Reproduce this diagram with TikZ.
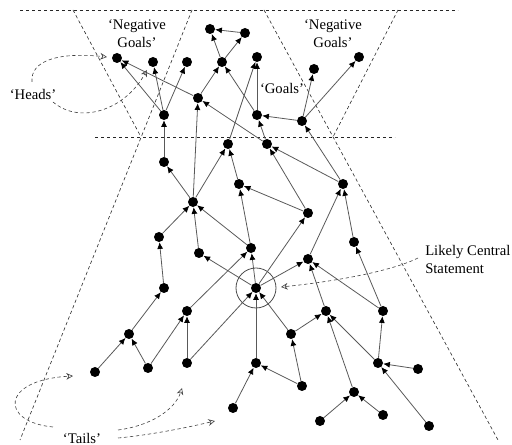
\documentclass[tikz,border=0pt]{standalone}
\usepackage{fontspec}
\setmainfont{Liberation Serif}
\usetikzlibrary{arrows.meta}

\begin{document}
\begin{tikzpicture}[
  x=0.75pt, y=-0.75pt,
  stmt/.style={circle, fill=black, inner sep=0pt, minimum size=7.5pt},
  link/.style={-{Latex[length=5pt, width=4.5pt, color=black]}, draw=black!65, line width=0.6pt},
  zone/.style={dash pattern=on 2.5pt off 2pt, draw=black!85, line width=0.45pt},
  hint/.style={-{Stealth[open, length=5pt, width=5pt]}, dash pattern=on 2.5pt off 2pt, draw=black!75, line width=0.45pt},
  lbl/.style={font=\fontsize{11}{13.5}\selectfont, align=center, inner sep=0pt},
]
  \useasboundingbox (0,0) rectangle (512,445);

  % zones
  \draw[zone] (20,10) -- (458,10);
  \draw[zone] (95,137) -- (395,137);
  \draw[zone] (73,10) -- (141,137);
  \draw[zone] (192,10) -- (20,440);
  \draw[zone] (398,10) -- (333,137);
  \draw[zone] (264,10) -- (498,440);

  % statements
  \node[stmt] (s1)  at (117,58)  {};
  \node[stmt] (s2)  at (153,62)  {};
  \node[stmt] (s3)  at (187,62)  {};
  \node[stmt] (s4)  at (164,115) {};
  \node[stmt] (s5)  at (198,98)  {};
  \node[stmt] (s6)  at (222,62)  {};
  \node[stmt] (s7)  at (210,29)  {};
  \node[stmt] (s8)  at (245,33)  {};
  \node[stmt] (s9)  at (257,57)  {};
  \node[stmt] (s10) at (257,115) {};
  \node[stmt] (s11) at (302,121) {};
  \node[stmt] (s12) at (314,69)  {};
  \node[stmt] (s13) at (359,57)  {};
  \node[stmt] (s14) at (228,144) {};
  \node[stmt] (s15) at (267,144) {};
  \node[stmt] (s16) at (164,162) {};
  \node[stmt] (s17) at (239,184) {};
  \node[stmt] (s18) at (343,184) {};
  \node[stmt] (s19) at (193,202) {};
  \node[stmt] (s20) at (308,213) {};
  \node[stmt] (s21) at (159,237) {};
  \node[stmt] (s22) at (199,253) {};
  \node[stmt] (s23) at (251,248) {};
  \node[stmt] (s24) at (354,242) {};
  \node[stmt] (s25) at (308,259) {};
  \node[stmt] (s26) at (256,288) {};
  \node[stmt] (s27) at (164,288) {};
  \node[stmt] (s28) at (187,311) {};
  \node[stmt] (s29) at (326,311) {};
  \node[stmt] (s30) at (383,311) {};
  \node[stmt] (s31) at (129,334) {};
  \node[stmt] (s32) at (291,334) {};
  \node[stmt] (s33) at (95,372)  {};
  \node[stmt] (s34) at (148,368) {};
  \node[stmt] (s35) at (187,363) {};
  \node[stmt] (s36) at (256,363) {};
  \node[stmt] (s37) at (378,363) {};
  \node[stmt] (s38) at (418,369) {};
  \node[stmt] (s39) at (302,386) {};
  \node[stmt] (s40) at (354,392) {};
  \node[stmt] (s41) at (233,408) {};
  \node[stmt] (s42) at (383,415) {};
  \node[stmt] (s43) at (320,421) {};
  \node[stmt] (s44) at (429,426) {};

  \draw[draw=black!70, line width=0.6pt] (s26) circle (15pt);

  % links
  \foreach \a/\b in {s4/s1, s5/s1, s4/s2, s4/s3, s5/s6, s6/s7, s8/s7, s6/s8,
                     s10/s6, s10/s9, s14/s9, s11/s10, s15/s10, s11/s12, s11/s13,
                     s16/s4, s19/s5, s15/s5, s19/s16, s19/s14, s17/s14,
                     s18/s11, s18/s15, s20/s15, s20/s17, s23/s17,
                     s21/s19, s22/s19, s23/s19, s27/s21, s26/s22, s26/s23,
                     s28/s23, s26/s20, s25/s18, s24/s18, s26/s25, s30/s25,
                     s29/s25, s30/s24, s35/s26, s36/s26, s32/s26, s31/s27,
                     s33/s31, s34/s31, s34/s28, s35/s28, s32/s29, s40/s29,
                     s37/s29, s37/s30, s38/s37, s44/s37, s39/s32, s39/s36,
                     s41/s36, s43/s40, s42/s40}
    \draw[link] (\a) -- (\b);

  % labels
  \node[lbl] (neg1)  at (137,34) {`Negative\\Goals'};
  \node[lbl] (neg2)  at (333,34) {`Negative\\Goals'};
  \node[lbl] (goals) at (282,88) {`Goals'};
  \node[lbl] (heads) at (33,94)  {`Heads'};
  \node[lbl] (tails) at (82,438) {`Tails'};
  \node[lbl, anchor=west, align=left] (central) at (425,259) {Likely Central\\Statement};

  \coordinate (h1) at (107,57);
  \coordinate (h2) at (147,70);
  \coordinate (t1) at (73,376);
  \coordinate (t2) at (182,388);
  \coordinate (t3) at (215,421);
  \coordinate (c1) at (281,287);

  \draw[hint] (32,82) .. controls (30,60) and (60,52) .. (h1);
  \draw[hint] (53,102) .. controls (80,125) and (125,110) .. (h2);
  \draw[hint] (53,427) .. controls (0,422) and (0,380) .. (t1);
  \draw[hint] (118,430) .. controls (150,426) and (175,410) .. (t2);
  \draw[hint] (118,438) .. controls (150,435) and (185,428) .. (t3);
  \draw[hint] (418,258) .. controls (390,272) and (330,282) .. (c1);
\end{tikzpicture}
\end{document}
